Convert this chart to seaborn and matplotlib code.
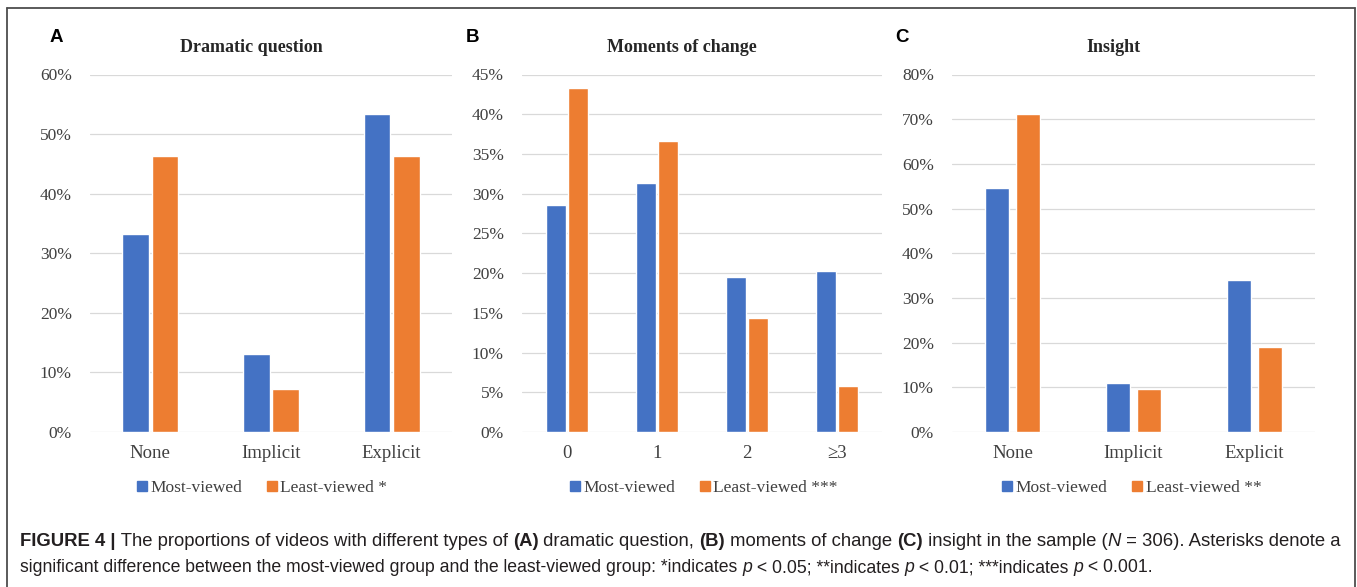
import pandas as pd
import numpy as np
import matplotlib
matplotlib.use("Agg")
import matplotlib.pyplot as plt
import seaborn as sns
from matplotlib.lines import Line2D
from matplotlib.transforms import IdentityTransform

# Werte (in %)
groups = ["Most-viewed", "Least-viewed"]

dq_cats = ["None", "Implicit", "Explicit"]
dq_most = [33.3, 13.1, 53.3]
dq_least = [46.4, 7.2, 46.4]

mc_cats = ["0", "1", "2", "\u22653"]
mc_most = [28.6, 31.4, 19.5, 20.3]
mc_least = [43.3, 36.6, 14.4, 5.8]

ins_cats = ["None", "Implicit", "Explicit"]
ins_most = [54.7, 11.0, 34.1]
ins_least = [71.1, 9.6, 19.1]

blue = "#4472C4"
orange = "#ED7D31"
txt = "#404040"

sns.set_theme(style="white")
plt.rcParams["font.family"] = ["Liberation Serif", "DejaVu Serif"]

W, H = 1357, 587
fig = plt.figure(figsize=(W / 100, H / 100), dpi=100)
fig.patch.set_facecolor("white")


def make_df(cats, most, least):
    return pd.DataFrame({
        "cat": cats * 2,
        "group": [groups[0]] * len(cats) + [groups[1]] * len(cats),
        "val": most + least,
    })


panels = [
    # letter, title, cats, most, least, ymax, step, left, right, gap, width, stars, legend x, letter x
    ("A", "Dramatic question", dq_cats, dq_most, dq_least, 60, 10, 90, 452, 0.1, 0.49, "*", 0.47, 50),
    ("B", "Moments of change", mc_cats, mc_most, mc_least, 45, 5, 522, 882, 0.13, 0.5, "***", 0.5, 466),
    ("C", "Insight", ins_cats, ins_most, ins_least, 80, 10, 952, 1315, 0.23, 0.51, "**", 0.49, 895),
]

top_px, bot_px = 74.5, 432
for letter, title, cats, most, least, ymax, step, lpx, rpx, gap, width, stars, lgx, ltx in panels:
    ax = fig.add_axes([lpx / W, 1 - bot_px / H, (rpx - lpx) / W, (bot_px - top_px) / H])
    df = make_df(cats, most, least)
    sns.barplot(data=df, x="cat", y="val", hue="group", palette=[blue, orange],
                width=width, gap=gap, ax=ax, legend=False, saturation=1)
    ax.set_ylim(0, ymax)
    ax.set_yticks(np.arange(0, ymax + 0.1, step))
    ax.set_yticklabels([f"{int(v)}%" for v in np.arange(0, ymax + 0.1, step)])
    ax.set_xlabel("")
    ax.set_ylabel("")
    for s in ax.spines.values():
        s.set_visible(False)
    ax.yaxis.grid(True, color="#d9d9d9", lw=0.9)
    ax.set_axisbelow(True)
    ax.tick_params(axis="y", length=0, pad=13, labelsize=12.5, labelcolor=txt)
    ax.tick_params(axis="x", length=0, pad=9, labelsize=13.5, labelcolor=txt)
    # Titel sitzt etwas links von der Achsenmitte
    ax.set_title(title, fontsize=13, fontweight="bold", color="#262626", pad=16,
                 x=0.5 - 20 / (rpx - lpx))
    handles = [Line2D([], [], marker="s", ls="", color=blue, markersize=7),
               Line2D([], [], marker="s", ls="", color=orange, markersize=7)]
    ax.legend(handles, ["Most-viewed", "Least-viewed " + stars], loc="center",
              bbox_to_anchor=(lgx, -0.157), ncol=2, frameon=False, fontsize=12.5,
              handletextpad=0.0, columnspacing=1.2, handlelength=1.0,
              labelcolor=txt)
    fig.text(ltx / W, 1 - 38 / H, letter, family="Liberation Sans",
             fontweight="bold", fontsize=13.5, va="center", ha="left", color="black")

# Rahmen (oben, links, rechts)
frame_col = "#4d4d4d"
fig.add_artist(Line2D([7 / W, 1355 / W], [1 - 8 / H, 1 - 8 / H], color=frame_col, lw=1.3))
fig.add_artist(Line2D([7 / W, 7 / W], [1 - 8 / H, 0], color=frame_col, lw=1.3))
fig.add_artist(Line2D([1355 / W, 1355 / W], [1 - 8 / H, 0], color=frame_col, lw=1.3))

# Bildunterschrift aus einzelnen Stuecken zusammensetzen
line1 = [("FIGURE 4 |", "bold", "normal"),
         (" The proportions of videos with different types of ", "normal", "normal"),
         ("(A)", "bold", "normal"), (" dramatic question, ", "normal", "normal"),
         ("(B)", "bold", "normal"), (" moments of change ", "normal", "normal"),
         ("(C)", "bold", "normal"), (" insight in the sample (", "normal", "normal"),
         ("N", "normal", "italic"), (" = 306). Asterisks denote a", "normal", "normal")]
line2 = [("significant difference between the most-viewed group and the least-viewed group: *indicates ", "normal", "normal"),
         ("p", "normal", "italic"), (" < 0.05; **indicates ", "normal", "normal"),
         ("p", "normal", "italic"), (" < 0.01; ***indicates ", "normal", "normal"),
         ("p", "normal", "italic"), (" < 0.001.", "normal", "normal")]

renderer = fig.canvas.get_renderer()
cap_col = "#231f20"
for segs, ypx, size in [(line1, 542, 13.35), (line2, 568, 12.7)]:
    x = 20
    for s, w, st in segs:
        t = fig.text(x, H - ypx, s, transform=IdentityTransform(), family="Liberation Sans",
                     fontweight=w, fontstyle=st, fontsize=size, color=cap_col, va="center")
        x += t.get_window_extent(renderer).width

fig.savefig("out.png", dpi=100, facecolor="white")
